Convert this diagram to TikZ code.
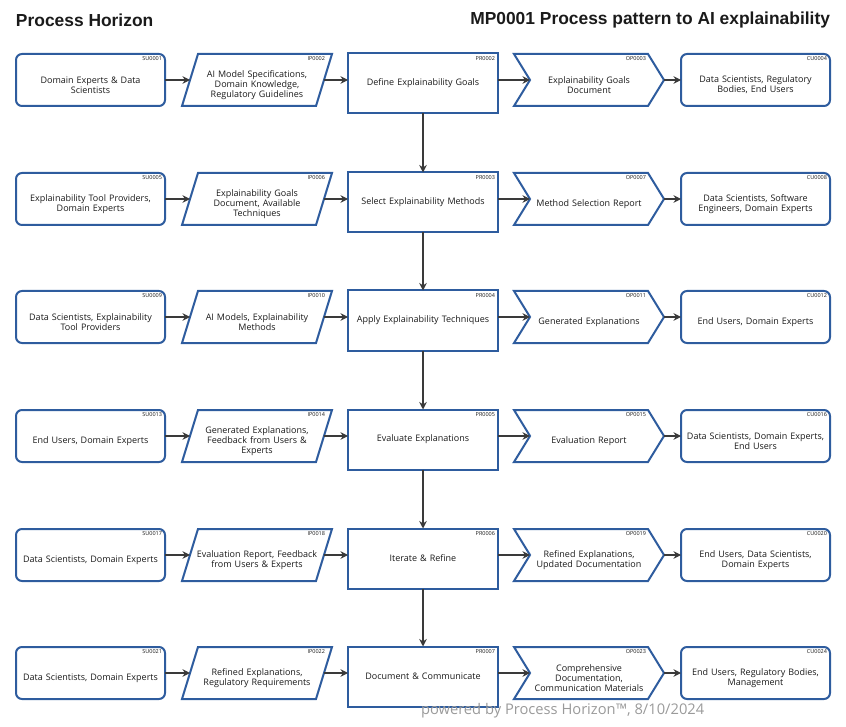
\documentclass[tikz,border=0pt]{standalone}
\usepackage{fontspec}
\setmainfont{Open Sans}
\newfontfamily\titlefont{Liberation Sans}
\usetikzlibrary{arrows.meta,calc}
\definecolor{boxblue}{HTML}{2E5C9E}
\definecolor{arrgray}{HTML}{3A3A3A}
\definecolor{txt}{HTML}{1A1A1A}
\definecolor{foot}{HTML}{9A9A9A}
\tikzset{
  x=1pt,y=-1pt,
  every node/.style={inner sep=0pt,outer sep=0pt,text=txt,font=\fontsize{9}{10.2}\selectfont,align=center},
  border/.style={draw=boxblue,line width=2pt,line join=miter},
  supbox/.style={border,rounded corners=6pt,minimum width=149pt,minimum height=52pt},
  supboxtext/.style={text width=140pt},
  inbox/.style={minimum width=150pt,minimum height=52pt},
  inboxtext/.style={text width=122pt},
  prbox/.style={border,minimum width=150pt,minimum height=60pt,text width=140pt},
  outbox/.style={minimum width=150pt,minimum height=52pt},
  outboxtext/.style={text width=116pt},
  code/.style={font=\fontsize{5.5}{6}\selectfont,text=txt,anchor=north east},
  arr/.style={draw=arrgray,line width=1.4pt,-{Stealth[length=7.5pt,width=7.5pt]}},
}
% element: style, name, position, text  (text sits 5pt below the shape centre)
\newcommand\elem[4]{\node[#1] (#2) at (#3) {}; \node[#1text] (#2t) at ([yshift=-5pt]#2.center) {#4};}
\newcommand\parashape[1]{\draw[border] (#1.south west) -- ([xshift=16pt]#1.north west) -- (#1.north east) -- ([xshift=-16pt]#1.south east) -- cycle;}
\newcommand\chevshape[1]{\draw[border] (#1.north west) -- ([xshift=-16pt]#1.north east) -- (#1.east) -- ([xshift=-16pt]#1.south east) -- (#1.south west) -- ([xshift=16pt]#1.west) -- cycle;}
\newcommand\codelab[3][-3pt]{\node[code] (#2c) at ([xshift=#1,yshift=-3pt]#2.north east) {#3};}
\newcommand\rowarrows[5]{%
  \draw[arr] (#1.east) -- ([xshift=8pt]#2.west);
  \draw[arr] ([xshift=-8pt]#2.east) -- (#2.east -| #3.west);
  \draw[arr] (#3.east |- #4.west) -- ([xshift=16pt]#4.west);
  \draw[arr] (#4.east) -- (#5.west);}
\begin{document}
\begin{tikzpicture}
\useasboundingbox (0,0) rectangle (846,727);
\node[anchor=west,font=\titlefont\bfseries\fontsize{17.4}{20}\selectfont] (t1) at (16,20) {Process Horizon};
\node[anchor=east,font=\titlefont\bfseries\fontsize{17.4}{20}\selectfont] (t2) at (830,20) {MP0001 Process pattern to AI explainability};

% Row 1
\elem{supbox}{su1}{90.5,80}{Domain Experts \& Data\\Scientists}
\elem{inbox}{ip1}{257,80}{AI Model Specifications,\\Domain Knowledge,\\Regulatory Guidelines}
\node[prbox] (pr1) at (423,83.5) {Define Explainability Goals};
\elem{outbox}{op1}{589,80}{Explainability Goals\\Document}
\elem{supbox}{cu1}{755.5,80}{Data Scientists, Regulatory\\Bodies, End Users}
% Row 2
\elem{supbox}{su2}{90.5,199}{Explainability Tool Providers,\\Domain Experts}
\elem{inbox}{ip2}{257,199}{Explainability Goals\\Document, Available\\Techniques}
\node[prbox] (pr2) at (423,202.5) {Select Explainability Methods};
\elem{outbox}{op2}{589,199}{Method Selection Report}
\elem{supbox}{cu2}{755.5,199}{Data Scientists, Software\\Engineers, Domain Experts}
% Row 3
\elem{supbox}{su3}{90.5,317}{Data Scientists, Explainability\\Tool Providers}
\elem{inbox}{ip3}{257,317}{AI Models, Explainability\\Methods}
\node[prbox] (pr3) at (423,320.5) {Apply Explainability Techniques};
\elem{outbox}{op3}{589,317}{Generated Explanations}
\elem{supbox}{cu3}{755.5,317}{End Users, Domain Experts}
% Row 4
\elem{supbox}{su4}{90.5,436}{End Users, Domain Experts}
\elem{inbox}{ip4}{257,436}{Generated Explanations,\\Feedback from Users \&\\Experts}
\node[prbox] (pr4) at (423,439.5) {Evaluate Explanations};
\elem{outbox}{op4}{589,436}{Evaluation Report}
\elem{supbox}{cu4}{755.5,436}{Data Scientists, Domain Experts,\\End Users}
% Row 5
\elem{supbox}{su5}{90.5,555}{Data Scientists, Domain Experts}
\elem{inbox}{ip5}{257,555}{Evaluation Report, Feedback\\from Users \& Experts}
\node[prbox] (pr5) at (423,558.5) {Iterate \& Refine};
\elem{outbox}{op5}{589,555}{Refined Explanations,\\Updated Documentation}
\elem{supbox}{cu5}{755.5,555}{End Users, Data Scientists,\\Domain Experts}
% Row 6
\elem{supbox}{su6}{90.5,673}{Data Scientists, Domain Experts}
\elem{inbox}{ip6}{257,673}{Refined Explanations,\\Regulatory Requirements}
\node[prbox] (pr6) at (423,676.5) {Document \& Communicate};
\elem{outbox}{op6}{589,673}{Comprehensive\\Documentation,\\Communication Materials}
\elem{supbox}{cu6}{755.5,673}{End Users, Regulatory Bodies,\\Management}

\foreach \i in {1,...,6} {\parashape{ip\i}\chevshape{op\i}}

\codelab{su1}{SU0001}\codelab[-7pt]{ip1}{IP0002}\codelab{pr1}{PR0002}\codelab[-18pt]{op1}{OP0003}\codelab{cu1}{CU0004}
\codelab{su2}{SU0005}\codelab[-7pt]{ip2}{IP0006}\codelab{pr2}{PR0003}\codelab[-18pt]{op2}{OP0007}\codelab{cu2}{CU0008}
\codelab{su3}{SU0009}\codelab[-7pt]{ip3}{IP0010}\codelab{pr3}{PR0004}\codelab[-18pt]{op3}{OP0011}\codelab{cu3}{CU0012}
\codelab{su4}{SU0013}\codelab[-7pt]{ip4}{IP0014}\codelab{pr4}{PR0005}\codelab[-18pt]{op4}{OP0015}\codelab{cu4}{CU0016}
\codelab{su5}{SU0017}\codelab[-7pt]{ip5}{IP0018}\codelab{pr5}{PR0006}\codelab[-18pt]{op5}{OP0019}\codelab{cu5}{CU0020}
\codelab{su6}{SU0021}\codelab[-7pt]{ip6}{IP0022}\codelab{pr6}{PR0007}\codelab[-18pt]{op6}{OP0023}\codelab{cu6}{CU0024}

\foreach \i in {1,...,6} {\rowarrows{su\i}{ip\i}{pr\i}{op\i}{cu\i}}
\draw[arr] (pr1.south) -- (pr2.north);
\draw[arr] (pr2.south) -- (pr3.north);
\draw[arr] (pr3.south) -- (pr4.north);
\draw[arr] (pr4.south) -- (pr5.north);
\draw[arr] (pr5.south) -- (pr6.north);

\node[anchor=west,text=foot,font=\fontsize{14.7}{16}\selectfont] (ft) at (421,711) {powered by Process Horizon™, 8/10/2024};
\end{tikzpicture}
\end{document}
